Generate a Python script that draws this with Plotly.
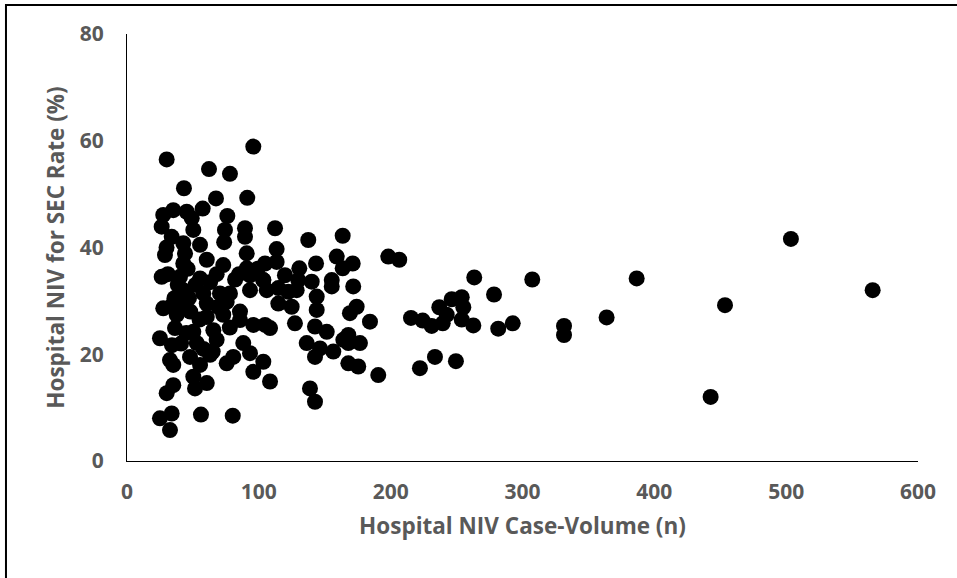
import plotly.graph_objects as go

case_volume = [
    95.8, 30.1, 62.2, 78.1, 43.2, 67.5, 91.2, 57.4, 76.1, 27.5,
    35.1, 45.3, 49.1, 26.3, 33.9, 50.3, 42.7, 74.3, 73.7, 89.5,
    89.5, 112.3, 28.8, 44.0, 55.4, 90.8, 42.7, 60.5, 73.0, 90.8,
    26.3, 40.2, 55.4, 93.3, 103.4, 42.7, 57.9, 70.5, 78.1, 93.3,
    35.1, 27.5, 60.5, 69.2, 75.6, 85.7, 37.7, 60.5, 73.0, 85.7,
    95.8, 36.4, 50.3, 65.5, 25.0, 52.9, 68.0, 88.2, 34.1,
    32.6, 47.8, 63.0, 35.1, 55.4, 75.6, 80.6, 93.3, 95.8, 35.1,
    30.1, 50.3, 51.6, 60.5, 25.0, 33.9, 32.6, 56.1, 80.2,
    137.5, 163.6, 113.5, 104.7, 113.5, 130.7, 143.4, 159.1, 171.2, 163.6,
    198.2, 119.8, 129.9, 140.1, 155.3, 155.3, 171.6, 106.0, 114.8, 122.3,
    128.7, 143.9, 114.8, 124.9, 143.9, 174.2, 169.1, 104.7, 108.5, 127.4,
    142.6, 151.5, 184.3, 136.3, 146.4, 142.6, 156.5, 164.1, 167.9, 167.9,
    176.7, 167.9, 175.4, 190.6, 103.4, 108.5, 138.8, 142.6, 103.4,
    206.5, 263.4, 307.4, 278.4, 246.3, 253.9, 236.9, 255.1, 242.5, 215.4,
    224.3, 231.1, 239.5, 253.9, 262.7, 281.6, 292.6, 233.6, 249.5, 222.2,
    331.5, 331.5, 363.8, 386.6, 453.6, 442.7, 503.6, 565.6,
    31.0, 38.5, 46.0, 52.0, 36.0, 63.0, 68.0, 82.0, 48.0, 55.0,
    41.0, 45.0, 78.0, 58.0, 65.0, 85.0, 99.0, 30.0, 40.0, 47.0,
]

sec_rate = [
    58.9, 56.5, 54.7, 53.8, 51.1, 49.2, 49.3, 47.3, 45.9, 46.1,
    47.0, 46.7, 45.5, 43.9, 42.0, 43.3, 40.8, 43.3, 41.0, 43.6,
    42.0, 43.6, 38.6, 38.9, 40.5, 38.9, 37.0, 37.7, 36.7, 36.1,
    34.5, 34.5, 34.2, 34.8, 33.9, 32.0, 31.4, 31.4, 31.4, 32.0,
    29.5, 28.6, 29.5, 28.9, 29.8, 28.0, 27.4, 27.0, 27.4, 26.4,
    25.5, 24.9, 24.2, 24.5, 23.0, 22.1, 22.7, 22.1, 21.7,
    18.9, 19.5, 19.9, 18.0, 18.0, 18.3, 19.5, 20.2, 16.7, 14.2,
    12.7, 15.8, 13.6, 14.6, 8.0, 8.9, 5.8, 8.7, 8.5,
    41.4, 42.2, 39.7, 37.0, 37.3, 36.1, 37.0, 38.3, 37.0, 36.1,
    38.3, 34.8, 33.9, 33.6, 33.9, 32.7, 32.7, 32.0, 32.4, 31.7,
    32.0, 30.8, 29.5, 28.9, 28.3, 28.9, 27.7, 25.5, 24.9, 25.8,
    25.2, 24.2, 26.1, 22.1, 21.1, 19.5, 20.5, 22.7, 23.6, 22.1,
    22.1, 18.3, 17.7, 16.1, 18.6, 14.9, 13.6, 11.1, 33.9,
    37.7, 34.4, 34.0, 31.2, 30.3, 30.7, 28.8, 28.8, 27.4, 26.8,
    26.3, 25.3, 25.8, 26.5, 25.4, 24.8, 25.8, 19.5, 18.7, 17.4,
    25.3, 23.6, 26.9, 34.2, 29.2, 12.0, 41.6, 32.0,
    35.0, 33.0, 36.0, 33.0, 30.5, 33.5, 35.0, 34.0, 28.0, 26.5,
    22.0, 24.0, 25.0, 21.0, 20.5, 35.0, 36.0, 40.0, 29.0, 30.5,
]

x_ticks = [0, 100, 200, 300, 400, 500, 600]
y_ticks = [0, 20, 40, 60, 80]

x_title = "Hospital NIV Case-Volume (n)"
y_title = "Hospital NIV for SEC Rate (%)"

FONT = "Open Sans"
GRAY = "#595959"

fig = go.Figure(
    go.Scatter(
        x=case_volume,
        y=sec_rate,
        mode="markers",
        marker=dict(size=16, color="#000000", line=dict(width=0)),
        showlegend=False,
        hoverinfo="x+y",
    )
)

axis_common = dict(
    showgrid=False,
    zeroline=False,
    showline=True,
    linecolor="#000000",
    linewidth=1,
    ticks="",
    tickfont=dict(family=FONT, size=21, color=GRAY, weight="bold"),
)

title_font = dict(family=FONT, size=22.5, color=GRAY, weight="bold")

fig.update_layout(
    width=957,
    height=578,
    margin=dict(l=127, r=39, t=34, b=117),
    paper_bgcolor="white",
    plot_bgcolor="white",
    font=dict(family=FONT, color=GRAY),
    xaxis=dict(
        range=[0, 600],
        tickvals=x_ticks,
        ticktext=[str(v) for v in x_ticks],
        ticklabelstandoff=12,
        title=dict(text=x_title, font=title_font, standoff=14),
        **axis_common,
    ),
    yaxis=dict(
        range=[0, 80],
        tickvals=y_ticks,
        ticktext=[str(v) for v in y_ticks],
        ticklabelstandoff=18,
        title=dict(text=y_title, font=title_font, standoff=8),
        **axis_common,
    ),
    shapes=[
        dict(
            type="rect",
            xref="paper",
            yref="paper",
            x0=-0.153,
            x1=1.06,
            y0=-0.29,
            y1=1.068,
            line=dict(color="#000000", width=2),
            fillcolor="rgba(0,0,0,0)",
            layer="above",
        )
    ],
)

fig.write_html(
    "out.html",
    config={"displayModeBar": False},
    post_script="document.body.style.margin='0';document.body.style.overflow='hidden';",
)
